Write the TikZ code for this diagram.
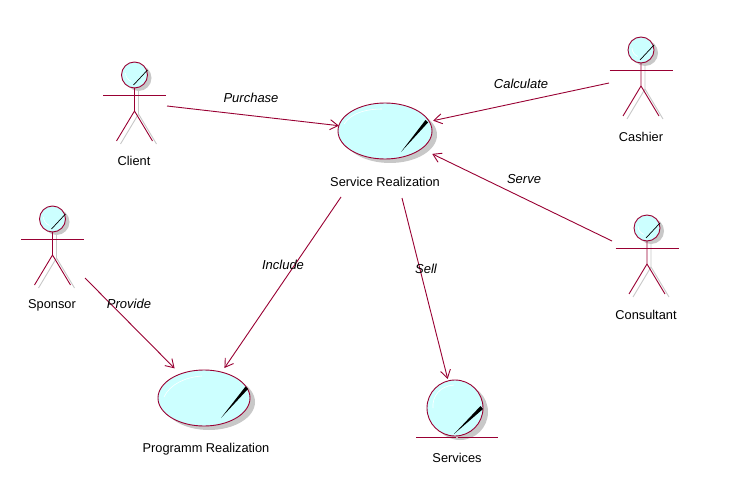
\documentclass[tikz,border=0pt]{standalone}
\usepackage{fontspec}
\setmainfont{Liberation Sans}
\usetikzlibrary{arrows.meta, shapes.geometric}
\definecolor{umlline}{HTML}{990033}
\definecolor{umlfill}{HTML}{CCFFFF}
\definecolor{umlshadow}{HTML}{C8C8C8}
\tikzset{
    wire/.style = {draw=umlline, line width=0.9pt},
    link/.style = {wire, -{Straight Barb[length=8pt,width=10pt]}},
    namelabel/.style = {font=\fontsize{12.8}{14}\selectfont, inner sep=0pt},
    verblabel/.style = {font=\fontsize{13}{14}\selectfont\itshape, inner sep=0pt},
    usecase/.style = {ellipse, draw=umlline, fill=umlfill, line width=0.9pt, inner sep=0pt, outer sep=0pt},
    actor/.pic = {
        % shadow first
        \fill [umlshadow] (4,3) circle (13);
        \draw [umlshadow, line width=0.9pt] (4,14) -- (4,39) -- (-14,69) (4,39) -- (22,69);
        \node [circle, minimum size=26pt, draw=umlline, fill=umlfill, line width=0.9pt, inner sep=0pt] (-head) at (0,0) {};
        \draw [white, line width=0.6pt] (-9,-2) arc (180:110:9);
        \draw [black, line width=0.7pt] (-1,10) -- (13,-5);
        \draw [wire] (-31.5,20) -- (31.5,20);
        \draw [wire] (0,13) -- (0,36) -- (-18,66) (0,36) -- (18,66);
    }
}

\begin{document}
\begin{tikzpicture}[x=1pt, y=-1pt]
    \useasboundingbox [fill=white] (0,0) rectangle (738,497);

    % shadows
    \fill [umlshadow] (390,135) ellipse [x radius=47, y radius=28];
    \fill [umlshadow] (209,402) ellipse [x radius=46, y radius=28];
    \fill [umlshadow] (460,412) circle (28);

    % use cases
    \node [usecase, minimum width=94pt, minimum height=56pt] (svc) at (385,131) {};
    \node [usecase, minimum width=92pt, minimum height=56pt] (prg) at (204,398) {};
    \node [circle, draw=umlline, fill=umlfill, line width=0.9pt, inner sep=0pt, outer sep=0pt, minimum size=56pt] (srv) at (455,408) {};

    % highlights
    \draw [white, line width=0.6pt] (344,124) .. controls (352,112) and (368,109) .. (382,109);
    \draw [white, line width=0.6pt] (164,397) .. controls (170,384) and (186,377) .. (202,376);
    \draw [white, line width=0.6pt] (433,408) .. controls (432,396) and (440,386) .. (454,385);

    % pens
    \fill (401,152) -- (425.5,120) -- (428,122.5) -- cycle;
    \fill (221,418) -- (245.5,386.5) -- (248,389) -- cycle;
    \fill (454,434) -- (480.5,406) -- (483,409) -- cycle;

    % base of the entity
    \node [inner sep=0pt] (srvbase) at (457,437) {};
    \draw [wire] (416,437) -- (srvbase) -- (498,437);

    % actors
    \pic (client) at (134.5,75) {actor};
    \pic (cashier) at (641,50) {actor};
    \pic (consultant) at (647,228) {actor};
    \pic (sponsor) at (52.5,219) {actor};

    % names
    \node [namelabel] (clientname) at (134,161) {Client};
    \node [namelabel] (cashiername) at (641,137) {Cashier};
    \node [namelabel] (consultantname) at (646,315) {Consultant};
    \node [namelabel] (sponsorname) at (52,305) {Sponsor};
    \node [namelabel] (svcname) at (385,182) {Service Realization};
    \node [namelabel] (prgname) at (206,449) {Programm Realization};
    \node [namelabel] (srvname) at (457,458) {Services};

    % free ends of the connectors
    \coordinate (clientout) at (167,106);
    \coordinate (cashierout) at (609,83);
    \coordinate (consultantout) at (612,241);
    \coordinate (sponsorout) at (85,278);
    \coordinate (svcinclude) at (341,197);
    \coordinate (svcsell) at (402,198);

    \draw [link] (clientout) -- (svc);
    \draw [link, shorten >=4pt] (cashierout) -- (svc);
    \draw [link, shorten >=12pt] (consultantout) -- (svc);
    \draw [link, shorten >=8pt] (sponsorout) -- (prg);
    \draw [link, shorten >=5pt] (svcinclude) -- (prg);
    \draw [link, shorten >=2pt] (svcsell) -- (srv);

    % connector labels
    \node [verblabel] (purchase) at (251,98) {Purchase};
    \node [verblabel] (calculate) at (521,84) {Calculate};
    \node [verblabel] (serve) at (524,179) {Serve};
    \node [verblabel] (include) at (283,265) {Include};
    \node [verblabel] (sell) at (426,269) {Sell};
    \node [verblabel] (provide) at (129,304) {Provide};
\end{tikzpicture}
\end{document}
